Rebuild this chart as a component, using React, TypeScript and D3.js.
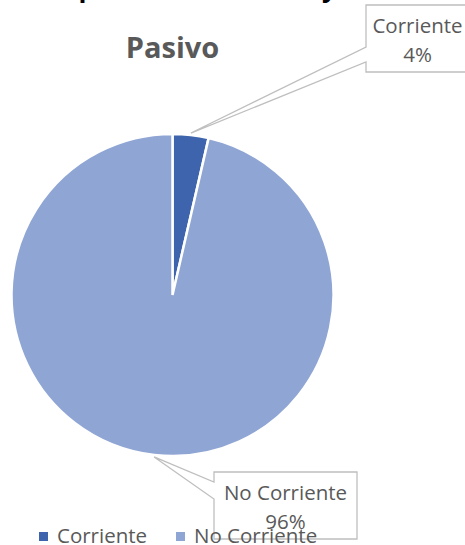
import React from 'react';
import * as d3 from 'd3';

const categories = ['Corriente', 'No Corriente'];
const values = [3.6, 96.4];
const colors = ['#3e64ad', '#8fa5d4'];
const chartTitle = 'Pasivo';
const headPrefix = 'Composición';
const headText = 'de pasivos corrientes y no corrientes';

// label callout boxes (layout only)
const boxes = [
  { x: 366, y: 5, w: 103, h: 67, p1: 42, p2: 57 },
  { x: 214, y: 472, w: 143, h: 67, p1: 10, p2: 27 },
];

const W = 465;
const H = 545;
const cx = 172.5;
const cy = 295;
const radius = 161;
const font = "'Open Sans', sans-serif";

const App = () => {
  const pie = d3.pie<number>().sort(null).startAngle(0).endAngle(2 * Math.PI);
  const arcs = pie(values);
  const arc = d3.arc<d3.PieArcDatum<number>>().innerRadius(0).outerRadius(radius);
  const tipArc = d3.arc<d3.PieArcDatum<number>>().innerRadius(radius + 2).outerRadius(radius + 2);
  const total = d3.sum(values);

  return (
    <svg width={W} height={H} style={{ position: 'absolute', left: 0, top: 0, background: '#fff' }}>
      {/* header, cut off at the top edge */}
      <text x={34} y={-3} textAnchor="end" fontFamily={font} fontWeight="bold" fontSize={27} fill="#000">
        {headPrefix}
      </text>
      <text x={40} y={-3} fontFamily={font} fontWeight="bold" fontSize={26} fill="#000">
        {headText}
      </text>

      <text x={cx} y={58} textAnchor="middle" fontFamily={font} fontWeight="bold" fontSize={29} fill="#595959">
        {chartTitle}
      </text>

      <g transform={`translate(${cx},${cy})`}>
        {arcs.map((a, i) => (
          <path key={i} d={arc(a) || ''} fill={colors[i]} stroke="#fff" strokeWidth={2.5} />
        ))}
      </g>

      {arcs.map((a, i) => {
        const b = boxes[i];
        const [tx, ty] = tipArc.centroid(a);
        const tipX = cx + tx;
        const tipY = cy + ty;
        const d = `M${b.x},${b.y} L${b.x + b.w},${b.y} L${b.x + b.w},${b.y + b.h} L${b.x},${b.y + b.h} L${b.x},${b.y + b.p2} L${tipX},${tipY} L${b.x},${b.y + b.p1} Z`;
        const pct = `${Math.round((values[i] / total) * 100)}%`;
        return (
          <g key={i}>
            <path d={d} fill="#fff" stroke="#bfbfbf" strokeWidth={1.3} />
            <text x={b.x + b.w / 2} y={b.y + 28} textAnchor="middle" fontFamily={font} fontSize={20.5} fill="#595959">
              {categories[i]}
            </text>
            <text x={b.x + b.w / 2} y={b.y + 57} textAnchor="middle" fontFamily={font} fontSize={20.5} fill="#595959">
              {pct}
            </text>
          </g>
        );
      })}

      {/* legend */}
      {categories.map((c, i) => {
        const lx = [39, 176][i];
        return (
          <g key={c}>
            <rect x={lx} y={532} width={9} height={9} fill={colors[i]} />
            <text x={lx + 18} y={543} fontFamily={font} fontSize={20.5} fill="#595959">
              {c}
            </text>
          </g>
        );
      })}
    </svg>
  );
};

export default App;
